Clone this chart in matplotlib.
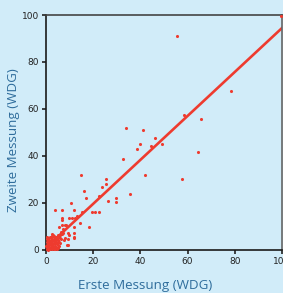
import matplotlib
matplotlib.use('Agg')
import matplotlib.pyplot as plt
import numpy as np

first = [99.4, 55.6, 78.5, 65.8, 58.4, 33.9, 40.9, 46.1, 39.7, 44.3, 49.1, 38.6,
         64.5, 57.6, 42.1, 35.5, 32.8, 14.9, 16.0, 16.8, 25.3, 25.3, 23.9, 22.5,
         26.3, 29.6, 29.6, 18.2, 10.7, 3.7, 6.9, 19.4, 20.8, 22.3, 15.3, 12.0,
         14.3, 13.3, 9.8, 11.2, 12.3, 6.9, 6.9, 8.1, 6.9, 5.5, 11.9, 12.0, 11.9,
         9.5, 8.2, 8.8, 2.7, 7.3, 8.3, 6.5, 9.7, 9.3, 7.6, 11.9, 9.3,
         0.3, 0.6, 1.0, 1.3, 1.7, 2.0, 2.4, 2.8, 3.1, 3.5, 3.9, 4.3, 4.7, 5.1,
         0.5, 0.9, 1.4, 1.8, 2.2, 2.6, 3.0, 3.4, 3.8, 4.2, 4.6, 5.0, 5.5, 6.0,
         0.4, 0.8, 1.2, 1.6, 2.1, 2.5, 2.9, 3.3, 3.7, 4.1, 4.5, 5.3, 5.8, 6.3,
         0.6, 1.1, 1.5, 2.3, 2.7, 3.2, 3.6, 4.4, 4.9, 5.6, 6.1, 6.6, 7.0,
         0.2, 0.7, 1.9, 2.6, 3.4, 1.2, 0.8, 4.0, 4.8, 5.4, 2.0, 1.0, 0.5, 3.0]
second = [99.7, 90.9, 67.7, 55.9, 57.3, 51.9, 50.9, 47.8, 44.9, 44.1, 44.9, 43.0,
          41.7, 30.1, 31.9, 23.9, 38.9, 31.7, 25.0, 22.1, 30.0, 28.1, 27.0, 23.1,
          21.0, 22.1, 20.6, 9.6, 20.0, 17.1, 17.1, 16.0, 16.0, 16.0, 16.0, 16.9,
          11.4, 14.6, 13.6, 13.6, 13.6, 13.6, 12.7, 10.7, 10.7, 9.7, 9.7, 7.4, 5.3,
          7.4, 5.3, 2.1, 6.9, 9.1, 10.8, 7.7, 6.5, 4.8, 4.1, 5.5, 2.3,
          0.5, 0.4, 0.8, 0.6, 1.0, 0.7, 1.2, 0.9, 1.3, 1.1, 1.5, 1.2, 1.0, 0.8,
          2.0, 1.8, 2.2, 2.5, 2.1, 2.8, 2.4, 3.0, 2.6, 3.2, 2.9, 2.2, 3.5, 3.0,
          3.4, 3.8, 3.1, 4.0, 3.6, 4.3, 4.1, 4.6, 3.9, 4.4, 4.9, 4.2, 5.0, 4.6,
          4.8, 5.2, 5.5, 5.1, 5.8, 5.4, 6.0, 5.6, 6.2, 5.9, 6.4, 6.8, 7.2,
          1.6, 2.7, 0.3, 0.5, 0.6, 1.4, 0.2, 0.4, 0.3, 1.7, 3.8, 4.4, 5.7, 6.5]

xticks = [0, 20, 40, 60, 80, 100]
yticks = [0, 20, 40, 60, 80, 100]

bg = '#d1ecf9'
red = '#ee3b2f'
blue = '#2f6d9c'

fig = plt.figure(figsize=(2.83, 2.93), dpi=100, facecolor=bg)
ax = fig.add_axes([0.1625, 0.1468, 0.834, 0.802])
ax.set_facecolor(bg)

ax.scatter(first, second, s=5, color=red, linewidths=0, zorder=3, clip_on=False)

# lineare Regression
slope, icpt = np.polyfit(first, second, 1)
xs = np.array([0, 100])
ax.plot(xs, slope * xs + icpt, color=red, lw=1.9, zorder=2)

ax.set_xlim(0, 100)
ax.set_ylim(0, 100)
ax.set_xticks(xticks)
ax.set_yticks(yticks)
ax.tick_params(direction='out', length=3, width=1.2, labelsize=6.5, colors='#222222', pad=2)
for lab in ax.get_xticklabels() + ax.get_yticklabels():
    lab.set_family(['Liberation Sans Narrow', 'DejaVu Sans'])
for sp in ax.spines.values():
    sp.set_linewidth(1.2)
    sp.set_color('#1a1a1a')
ax.spines['right'].set_color('#666666')
ax.spines['top'].set_color('#444444')

ax.set_xlabel('Erste Messung (WDG)', fontsize=9.6, color=blue, family='Open Sans')
ax.set_ylabel('Zweite Messung (WDG)', fontsize=9.6, color=blue, family='Open Sans')
ax.xaxis.set_label_coords(0.42, -0.149)
ax.yaxis.set_label_coords(-0.136, 0.468)
ax.xaxis.label.set_va('center')
ax.yaxis.label.set_va('center')

fig.savefig('out.png', dpi=100, facecolor=bg)
